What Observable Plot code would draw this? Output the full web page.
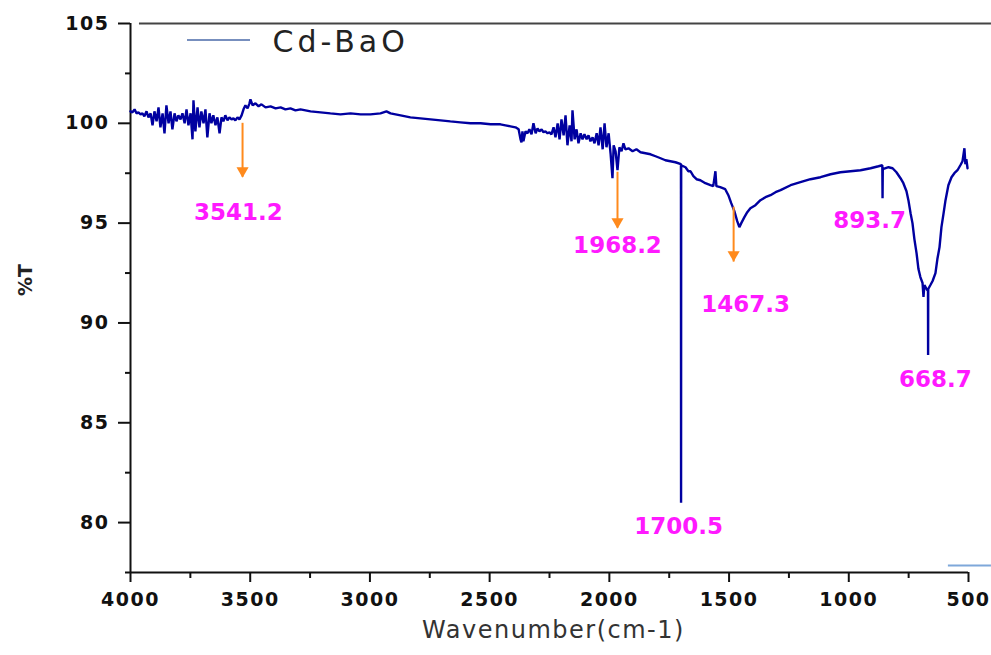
<!DOCTYPE html>
<html><head><meta charset="utf-8">
<script src="https://cdn.jsdelivr.net/npm/d3@7"></script>
<script src="https://cdn.jsdelivr.net/npm/@observablehq/plot@0.6"></script>
<style>
html,body{margin:0;padding:0;background:#fff;}
#chart{width:991px;height:655px;}
g[aria-label="x-axis tick label"] text, g[aria-label="y-axis tick label"] text {letter-spacing:1.5px;}
</style></head><body><div id="chart"></div><script>
// ---- data ----
const seriesName = "Cd-BaO";
const wavenumber = [4000,3992,3983,3975,3967,3958,3950,3942,3933,3925,
3916,3908,3900,3891,3883,3875,3866,3858,3850,3841,
3833,3825,3816,3808,3800,3791,3783,3774,3766,3758,
3749,3741,3737,3729,3720,3712,3704,3695,3687,3679,
3670,3662,3654,3645,3637,3628,3620,3612,3604,3595,
3587,3578,3570,3562,3553,3545,3536,3528,3520,3511,
3503,3499,3490,3478,3465,3453,3436,3415,3394,3373,
3353,3332,3311,3290,3248,3206,3165,3123,3081,3039,
2998,2956,2931,2914,2872,2831,2789,2747,2705,2664,
2622,2580,2538,2496,2455,2434,2413,2392,2379,2371,
2367,2363,2359,2350,2342,2334,2325,2317,2308,2300,
2292,2283,2275,2267,2258,2250,2242,2233,2225,2216,
2208,2200,2191,2183,2175,2166,2158,2154,2145,2137,
2129,2120,2112,2104,2095,2087,2079,2070,2062,2053,
2045,2037,2028,2020,2012,2003,1995,1987,1982,1974,
1966,1958,1949,1941,1933,1920,1903,1887,1870,1849,
1828,1807,1786,1766,1745,1724,1701,1700.5,1700,1682,
1670,1661,1649,1636,1620,1599,1578,1566,1557,1553,
1537,1516,1503,1491,1478,1466,1457,1449,1436,1424,
1411,1390,1369,1348,1327,1306,1285,1243,1202,1160,
1118,1076,1035,993,951,909,876,860,859,858,
834,817,801,784,772,759,751,742,734,726,
717,709,701,692,688,684,675,669.2,668.7,668.2,
659,650,638,630,621,613,604,596,584,571,
559,546,534,525,517,513,509,504];
const transmittance = [100.6,100.55,100.7,100.5,100.55,100.45,100.5,100.35,100.6,100.3,
100.5,99.9,100.6,100.1,100.8,99.8,100.5,99.5,100.9,100.0,
100.6,99.7,100.5,100.1,100.4,100.2,100.5,100.0,100.7,99.9,
100.5,99.2,101.15,99.6,100.8,99.8,100.6,100.0,100.7,99.3,
100.5,100.0,100.4,99.9,100.3,99.5,100.3,100.1,100.4,100.15,
100.3,100.2,100.25,100.15,100.3,100.2,100.4,100.7,100.9,100.75,
101.0,101.2,100.9,101.0,100.85,100.95,100.8,100.85,100.75,100.8,
100.7,100.75,100.65,100.7,100.6,100.55,100.5,100.45,100.5,100.45,
100.45,100.5,100.6,100.5,100.4,100.3,100.25,100.2,100.15,100.1,
100.05,100.0,100.0,99.95,99.95,99.9,99.85,99.8,99.7,99.2,
99.05,99.6,99.1,99.6,99.5,99.7,99.45,100.0,99.5,99.75,
99.6,99.7,99.55,99.6,99.5,99.55,99.45,99.8,99.3,100.0,
99.2,100.2,99.4,100.4,98.9,99.9,99.1,100.65,99.2,99.7,
99.0,99.5,99.2,99.45,99.2,99.4,99.1,99.3,99.0,99.5,
98.9,99.8,98.7,100.0,98.8,99.5,98.5,97.25,98.9,98.6,
97.65,98.8,98.6,99.0,98.7,98.75,98.6,98.7,98.55,98.5,
98.45,98.35,98.25,98.15,98.1,98.05,97.95,81.0,97.9,97.8,
97.6,97.6,97.35,97.2,97.15,97.0,96.9,96.85,97.6,96.85,
96.8,96.7,96.4,96.0,95.6,95.1,94.8,95.0,95.3,95.55,
95.75,95.9,96.15,96.3,96.4,96.55,96.65,96.9,97.05,97.2,
97.3,97.45,97.55,97.6,97.65,97.75,97.85,97.9,96.25,97.7,
97.8,97.75,97.55,97.25,97.0,96.6,96.15,95.5,95.0,94.2,
93.5,92.7,92.3,92.0,91.3,91.9,91.7,91.6,88.4,91.7,
91.9,92.1,92.5,93.2,93.8,94.8,95.5,96.15,96.9,97.3,
97.5,97.65,97.9,98.1,98.75,97.95,98.2,97.75];

// peak annotations
const peakText = ["3541.2","1968.2","1467.3","893.7","668.7","1700.5"];
const peakLabelX = [3549,1966,1431,913,638,1711];
const peakLabelY = [95.55,93.85,90.9,95.15,87.15,79.8];

// orange arrows
const arrowX = [3532,1966,1481];
const arrowTop = [100,97.55,95.8];
const arrowBottom = [97.3,94.75,93.05];
const arrowHead = [97.62,95.07,93.42];

// ticks
const xMajor = [4000,3500,3000,2500,2000,1500,1000,500];
const xMinor = [3750,3250,2750,2250,1750,1250,750];
const yMajor = [80,85,90,95,100,105];
const yMinor = [77.5,82.5,87.5,92.5,97.5,102.5];

// ---- build ----
const spectrum = wavenumber.map((w,i)=>({w, t: transmittance[i]}));
const peaks = peakText.map((s,i)=>({s, x: peakLabelX[i], y: peakLabelY[i]}));
const arrows = arrowX.map((x,i)=>({x, y1: arrowTop[i], y2: arrowBottom[i], h: arrowHead[i]}));
const xDom = [4000,500], yDom = [77.5,105];
const xAt = f => xDom[0] + (xDom[1]-xDom[0])*f;   // fraction of frame width -> data
const yAt = f => yDom[0] + (yDom[1]-yDom[0])*f;

const chart = Plot.plot({
  width: 991, height: 655,
  marginLeft: 130, marginRight: 23, marginTop: 23, marginBottom: 83,
  x: {domain: xDom},
  y: {domain: yDom},
  style: {fontFamily: "DejaVu Sans", background: "#fff", color: "#111"},
  marks: [
    // top border line (runs past the frame to the right edge)
    Plot.ruleY([yDom[1]], {x1: xAt(0.0107), x2: xAt(1.0274), stroke: "#444", strokeWidth: 2}),
    // axis lines
    Plot.ruleX([xDom[0]], {y1: yDom[0], y2: yDom[1], stroke: "#111", strokeWidth: 2}),
    Plot.ruleY([yDom[0]], {stroke: "#111", strokeWidth: 2}),
    Plot.axisY(yMajor, {tickSize: 12, tickPadding: 9, fontSize: 19, fontWeight: "bold", fontFamily: "DejaVu Sans", fill: "#111", stroke: "#111", strokeWidth: 2, label: null, tickFormat: d => String(d)}),
    Plot.axisY(yMinor, {tickSize: 5, stroke: "#111", strokeWidth: 2, label: null, tickFormat: () => ""}),
    Plot.axisX(xMajor, {tickSize: 10, tickPadding: 10, fontSize: 19, fontWeight: "bold", fontFamily: "DejaVu Sans", fill: "#111", stroke: "#111", strokeWidth: 2, label: null, tickFormat: d => String(d)}),
    Plot.axisX(xMinor, {tickSize: 6, stroke: "#111", strokeWidth: 2, label: null, tickFormat: () => ""}),
    // axis titles
    Plot.text(["Wavenumber(cm-1)"], {frameAnchor: "bottom", dy: 65, dx: 4, fontSize: 24, fill: "#333", fontFamily: "DejaVu Sans"}),
    Plot.text(["%T"], {frameAnchor: "left", dx: -105, dy: -2, rotate: -90, fontSize: 19, fontWeight: "bold", fill: "#222", fontFamily: "DejaVu Sans"}),
    // stray legend fragment at the bottom right
    Plot.ruleY([yAt(0.0127)], {x1: xAt(0.976), x2: xAt(1.0274), stroke: "#7ea8da", strokeWidth: 2}),
    // spectrum
    Plot.line(spectrum, {x: "w", y: "t", stroke: "#0000a0", strokeWidth: 2.4, strokeLinejoin: "miter"}),
    // arrows
    Plot.ruleX(arrows, {x: "x", y1: "y1", y2: "y2", stroke: "#ff8a1c", strokeWidth: 2}),
    Plot.dot(arrows, {x: "x", y: "h", symbol: "triangle", r: 4.5, fill: "#ff8a1c", rotate: 180}),
    // peak labels
    Plot.text(peaks, {x: "x", y: "y", text: "s", fill: "#ff1aff", fontSize: 23, fontWeight: "bold", fontFamily: "DejaVu Sans"}),
    // legend
    Plot.ruleY([yAt(0.97)], {x1: xAt(0.0680), x2: xAt(0.1432), stroke: "#4a6aa8", strokeWidth: 1.5}),
    Plot.text([seriesName], {x: xAt(0.1694), y: yAt(0.966), textAnchor: "start", fontSize: 30, fill: "#222", fontFamily: "DejaVu Sans"})
  ]
});
d3.select(chart).selectAll("text").filter(function(){ return this.textContent === seriesName; }).attr("letter-spacing", "4px");
d3.select(chart).selectAll("text").filter(function(){ return this.textContent === "Wavenumber(cm-1)"; }).attr("letter-spacing", "1.5px");
document.getElementById("chart").appendChild(chart);
</script></body></html>
